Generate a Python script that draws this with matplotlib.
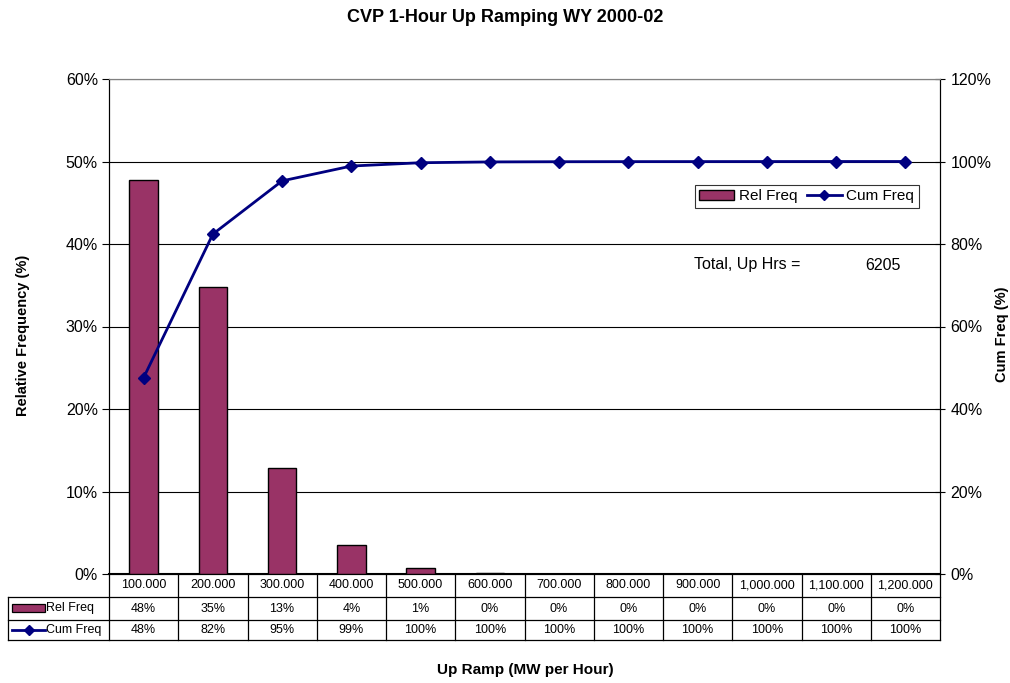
import numpy as np
import matplotlib.pyplot as plt
from matplotlib.lines import Line2D
from matplotlib.patches import Rectangle

plt.rcParams["font.family"] = ["Liberation Sans", "DejaVu Sans"]

# data
bins = ["100.000", "200.000", "300.000", "400.000", "500.000", "600.000",
        "700.000", "800.000", "900.000", "1,000.000", "1,100.000", "1,200.000"]
rel_freq = [47.7, 34.8, 12.9, 3.5, 0.7, 0.15, 0.05, 0.03, 0.02, 0.01, 0.01, 0.01]
cum_freq = [47.6, 82.4, 95.3, 98.9, 99.7, 99.9, 99.95, 99.97, 99.98, 99.99, 100.0, 100.0]
rel_labels = ["48%", "35%", "13%", "4%", "1%", "0%", "0%", "0%", "0%", "0%", "0%", "0%"]
cum_labels = ["48%", "82%", "95%", "99%", "100%", "100%", "100%", "100%", "100%", "100%", "100%", "100%"]
total_up_hrs = 6205

bar_color = "#993366"
line_color = "#000080"

W, H = 1010, 683
fig = plt.figure(figsize=(W / 100, H / 100), dpi=100)
ax = fig.add_axes([109 / W, (H - 574) / H, 831 / W, 495 / H])
ax2 = ax.twinx()

x = np.arange(len(bins))
ax.bar(x, rel_freq, width=0.41, color=bar_color, edgecolor="black", linewidth=1, zorder=3)
ax.set_xlim(-0.5, len(bins) - 0.5)
ax.set_ylim(0, 60)
ax.set_yticks(np.arange(0, 61, 10))
ax.set_yticklabels([f"{v}%" for v in range(0, 61, 10)], fontsize=11.5)
ax.yaxis.grid(True, color="black", linewidth=0.8)
ax.set_axisbelow(True)
ax.set_xticks([])
ax.tick_params(axis="y", direction="out", length=5, width=0.8, pad=3)

ax2.plot(x, cum_freq, color=line_color, linewidth=2, marker="D", markersize=6, zorder=4)
ax2.set_ylim(0, 120)
ax2.set_yticks(np.arange(0, 121, 20))
ax2.set_yticklabels([f"{v}%" for v in range(0, 121, 20)], fontsize=11.5)
ax2.tick_params(axis="y", direction="inout", length=7, width=0.8, pad=4)

for a in (ax, ax2):
    for s in a.spines.values():
        s.set_color("black")
        s.set_linewidth(0.8)
    a.spines["top"].set_color("#808080")
ax.spines["bottom"].set_linewidth(1.5)

ax.set_ylabel("Relative Frequency (%)", fontsize=10.5, fontweight="bold")
ax.yaxis.set_label_coords((30 - 109) / 831, 0.5 - 9 / 495)
ax2.set_ylabel("Cum Freq (%)", fontsize=10.5, fontweight="bold")
ax2.yaxis.set_label_coords((995 - 109) / 831, 0.5 - 8 / 495)
fig.text(505 / W, 1 - 17 / H, "CVP 1-Hour Up Ramping WY 2000-02", ha="center", va="center",
         fontsize=13, fontweight="bold")
fig.text(525 / W, 1 - 670 / H, "Up Ramp (MW per Hour)", ha="center", va="center",
         fontsize=11, fontweight="bold")

# legend
handles = [Rectangle((0, 0), 1, 1, facecolor=bar_color, edgecolor="black"),
           Line2D([], [], color=line_color, linewidth=2, marker="D", markersize=5)]
leg = ax.legend(handles, ["Rel Freq", "Cum Freq"], loc="upper left",
                bbox_to_anchor=((695 - 109) / 831, (574 - 185) / 495), ncol=2,
                fontsize=11, frameon=True, fancybox=False, edgecolor="black",
                handlelength=2.3, handletextpad=0.3, columnspacing=0.6,
                borderpad=0.28, borderaxespad=0)
leg.get_frame().set_linewidth(0.8)

ax.text((694 - 109) / 831, (574 - 265) / 495, "Total, Up Hrs =", transform=ax.transAxes,
        fontsize=11.5, va="center", ha="left")
ax.text((901 - 109) / 831, (574 - 265) / 495, str(total_up_hrs), transform=ax.transAxes,
        fontsize=11.5, va="center", ha="right")

# data table below the plot
def fy(py):
    return 1 - py / H

def fx(px):
    return px / W

row_y = [574, 597, 620, 640]
col_x = [109 + i * 831 / 12 for i in range(13)]
lk = dict(color="black", linewidth=0.9, transform=fig.transFigure)
for cx in col_x:
    fig.add_artist(Line2D([fx(cx), fx(cx)], [fy(574), fy(640)], **lk))
fig.add_artist(Line2D([fx(8), fx(8)], [fy(597), fy(640)], **lk))
for ry in row_y[1:]:
    fig.add_artist(Line2D([fx(8), fx(940)], [fy(ry), fy(ry)], **lk))

tfs = 9
for i in range(12):
    cx = (col_x[i] + col_x[i + 1]) / 2
    fig.text(fx(cx), fy(585.5), bins[i], ha="center", va="center", fontsize=tfs)
    fig.text(fx(cx), fy(608.5), rel_labels[i], ha="center", va="center", fontsize=tfs)
    fig.text(fx(cx), fy(630), cum_labels[i], ha="center", va="center", fontsize=tfs)

fig.add_artist(Rectangle((fx(12), fy(612)), fx(45) - fx(12), fy(604) - fy(612),
                         facecolor=bar_color, edgecolor="black", linewidth=0.9,
                         transform=fig.transFigure))
fig.text(fx(46), fy(608.5), "Rel Freq", ha="left", va="center", fontsize=tfs)
fig.add_artist(Line2D([fx(12), fx(45)], [fy(630), fy(630)], color=line_color, linewidth=2,
                      transform=fig.transFigure))
fig.add_artist(Line2D([fx(28.5)], [fy(630)], color=line_color, marker="D", markersize=5,
                      transform=fig.transFigure))
fig.text(fx(46), fy(630), "Cum Freq", ha="left", va="center", fontsize=tfs)

fig.savefig("out.png", dpi=100)
